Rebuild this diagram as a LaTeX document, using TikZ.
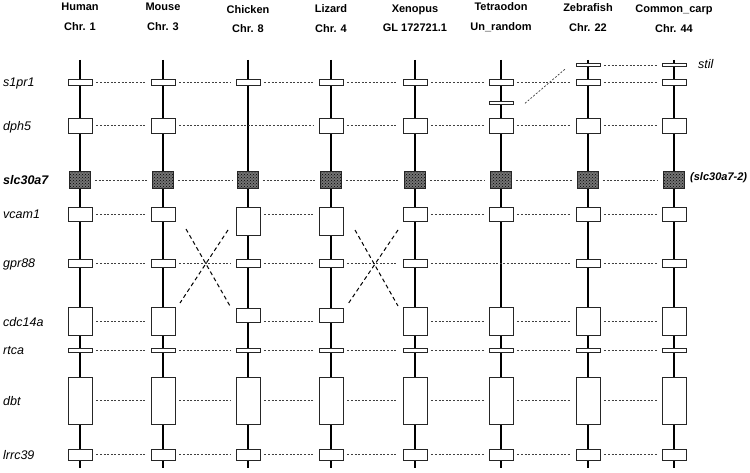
\documentclass[tikz,border=0pt]{standalone}
\usepackage{fontspec}
\setmainfont{Liberation Sans}
\usetikzlibrary{patterns}

\tikzset{
  chrom/.style={line width=2.8pt},
  gene/.style={draw=black!85, line width=0.8pt, fill=white, minimum width=24pt, inner sep=0pt},
  zinc/.style={gene, minimum width=21pt, preaction={fill=black!55}, pattern=crosshatch dots, pattern color=black},
  link/.style={dash pattern=on 2pt off 1.6pt, line width=0.7pt, black!75, shorten <=4pt, shorten >=5pt},
  swap/.style={dash pattern=on 4pt off 3pt, line width=1pt},
  species/.style={font=\fontsize{11}{19.5}\selectfont\bfseries, align=center},
  genelab/.style={font=\fontsize{12.5}{14}\selectfont\itshape, anchor=base west, inner sep=0pt},
}

\begin{document}
\begin{tikzpicture}[x=1pt,y=-1pt]
\useasboundingbox (0,0) rectangle (750,473);
% chromosomes
\foreach \x in {80,163,248,331,415,501,588,674}
  \draw[chrom] (\x,60) -- (\x,468);

\node[species] (H) at (80,17) {Human\\Chr. 1};
\node[species] (M) at (163,17) {Mouse\\Chr. 3};
\node[species] (C) at (248,19) {Chicken\\Chr. 8};
\node[species] (L) at (331,18.5) {Lizard\\Chr. 4};
\node[species] (X) at (415,18.5) {Xenopus\\GL 172721.1};
\node[species] (T) at (501,17) {Tetraodon\\Un\_random};
\node[species] (Z) at (588,17.5) {Zebrafish\\Chr. 22};
\node[species] (K) at (674,18.5) {Common\_carp\\Chr. 44};

\node[genelab] (lab-s1pr1) at (3,86.3) {s1pr1};
\node[genelab] (lab-dph5) at (3,131) {dph5};
\node[genelab, font=\fontsize{12.5}{14}\selectfont\bfseries\itshape] (lab-slc30a7) at (3,184.3) {slc30a7};
\node[genelab] (lab-vcam1) at (3,218.3) {vcam1};
\node[genelab] (lab-gpr88) at (3,267.3) {gpr88};
\node[genelab] (lab-cdc14a) at (3,326) {cdc14a};
\node[genelab] (lab-rtca) at (3,354.3) {rtca};
\node[genelab] (lab-dbt) at (3,405.3) {dbt};
\node[genelab] (lab-lrrc39) at (3,459.3) {lrrc39};
\node[genelab] (lab-stil) at (698,68.5) {stil};
\node[genelab, font=\fontsize{11}{13}\selectfont\bfseries\itshape] (lab-slc2) at (690,181) {(slc30a7-2)};

% gene boxes
\foreach \c/\x in {H/80,M/163,C/248,L/331,X/415,T/501,Z/588,K/674} {
  \node[gene, minimum height=6.5pt] (\c-s1pr1) at (\x,82.5) {};
  \node[zinc, minimum height=17.5pt] (\c-slc30a7) at (\x,180) {};
  \node[gene, minimum height=4pt] (\c-rtca) at (\x,350) {};
  \node[gene, minimum height=47pt] (\c-dbt) at (\x,400.7) {};
  \node[gene, minimum height=11pt] (\c-lrrc39) at (\x,454.7) {};
}
\foreach \c/\x in {H/80,M/163,L/331,X/415,T/501,Z/588,K/674}
  \node[gene, minimum height=15pt] (\c-dph5) at (\x,125.5) {};
\foreach \c/\x in {H/80,M/163,X/415,T/501,Z/588,K/674} {
  \node[gene, minimum height=14pt] (\c-vcam1) at (\x,214) {};
  \node[gene, minimum height=28pt] (\c-cdc14a) at (\x,321) {};
}
\foreach \c/\x in {C/248,L/331} {
  \node[gene, minimum height=28pt] (\c-vcam1) at (\x,221) {};
  \node[gene, minimum height=14pt] (\c-cdc14a) at (\x,315) {};
}
\foreach \c/\x in {H/80,M/163,C/248,L/331,X/415,Z/588,K/674}
  \node[gene, minimum height=8pt] (\c-gpr88) at (\x,263) {};
\node[gene, minimum height=3.5pt] (Z-stil) at (588,65) {};
\node[gene, minimum height=3.5pt] (K-stil) at (674,65) {};
\node[gene, minimum height=3.5pt] (T-s1pr1b) at (501,102.7) {};

% orthologue links
\foreach \a/\b in {H/M,M/C,C/L,L/X,X/T,T/Z,Z/K} {
  \draw[link] (\a-s1pr1.east) -- (\b-s1pr1.west);
  \draw[link] (\a-slc30a7.east) -- (\b-slc30a7.west);
  \draw[link] (\a-rtca.east) -- (\b-rtca.west);
  \draw[link] (\a-dbt.east) -- (\b-dbt.west);
  \draw[link] (\a-lrrc39.east) -- (\b-lrrc39.west);
}
\foreach \a/\b in {H/M,M/L,L/X,X/T,T/Z,Z/K}
  \draw[link] (\a-dph5.east) -- (\b-dph5.west);
\foreach \a/\b in {H/M,C/L,X/T,T/Z,Z/K} {
  \draw[link] (\a-vcam1.east |- H-vcam1) -- (\b-vcam1.west |- H-vcam1);
  \draw[link] (\a-cdc14a.east |- H-cdc14a) -- (\b-cdc14a.west |- H-cdc14a);
}
\foreach \a/\b in {H/M,M/C,C/L,L/X,X/Z,Z/K}
  \draw[link] (\a-gpr88.east) -- (\b-gpr88.west);
\draw[link] (Z-stil.east) -- (K-stil.west);

% inversions
\coordinate (mc-a) at (186,229); \coordinate (mc-b) at (230,306);
\coordinate (mc-c) at (228,230); \coordinate (mc-d) at (180,303);
\coordinate (lx-a) at (355,230); \coordinate (lx-b) at (398,306);
\coordinate (lx-c) at (398,230); \coordinate (lx-d) at (348,304);
\draw[swap] (mc-a) -- (mc-b);
\draw[swap] (mc-c) -- (mc-d);
\draw[swap] (lx-a) -- (lx-b);
\draw[swap] (lx-c) -- (lx-d);
\coordinate (t-cut) at (525,103.3); \coordinate (stil-cut) at (566,68.3);
\draw[link, shorten <=0pt, shorten >=0pt] (t-cut) -- (stil-cut);
\end{tikzpicture}
\end{document}
